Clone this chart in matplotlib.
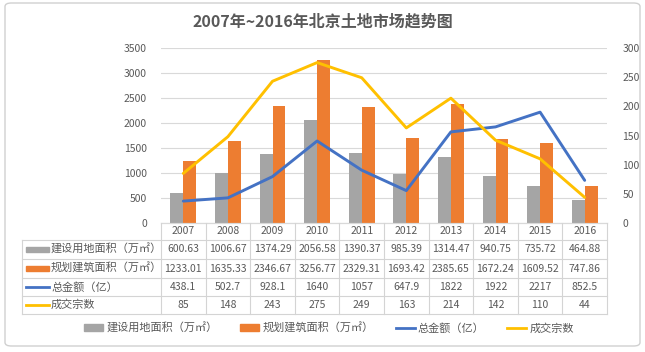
import matplotlib
matplotlib.use("Agg")
import matplotlib.pyplot as plt
from matplotlib.patches import Rectangle, FancyBboxPatch
from matplotlib.lines import Line2D
import numpy as np

plt.rcParams['font.family'] = ['Noto Sans CJK SC', 'DejaVu Sans']

years = ['2007', '2008', '2009', '2010', '2011', '2012', '2013', '2014', '2015', '2016']
land_area = [600.63, 1006.67, 1374.29, 2056.58, 1390.37, 985.39, 1314.47, 940.75, 735.72, 464.88]
build_area = [1233.01, 1635.33, 2346.67, 3256.77, 2329.31, 1693.42, 2385.65, 1672.24, 1609.52, 747.86]
total_amount = [438.1, 502.7, 928.1, 1640, 1057, 647.9, 1822, 1922, 2217, 852.5]
deal_count = [85, 148, 243, 275, 249, 163, 214, 142, 110, 44]
series_names = ['建设用地面积（万㎡）', '规划建筑面积（万㎡）', '总金额（亿）', '成交宗数']
title = '2007年~2016年北京土地市场趋势图'

C_GRAY = '#A5A5A5'
C_ORANGE = '#ED7D31'
C_BLUE = '#4472C4'
C_YELLOW = '#FFC000'
C_TEXT = '#595959'
C_GRID = '#D9D9D9'

W, H = 645, 352
fig = plt.figure(figsize=(W / 100, H / 100), dpi=100)

def fx(px):
    return px / W

def fy(py):
    return 1 - py / H

# outer border
fig.patches.append(FancyBboxPatch((fx(5), fy(346)), fx(635), 343 / H,
                                  boxstyle='round,pad=0,rounding_size=0.01',
                                  transform=fig.transFigure, fill=False,
                                  edgecolor='#D0D0D0', linewidth=1.0))

ax_l, ax_r, ax_t, ax_b = 161, 607, 48, 223
ax = fig.add_axes([fx(ax_l), fy(ax_b), (ax_r - ax_l) / W, (ax_b - ax_t) / H])
ax2 = ax.twinx()

n = len(years)
x = np.arange(n)
bw = 0.29
ax.bar(x - bw / 2, land_area, width=bw, color=C_GRAY, zorder=2)
ax.bar(x + bw / 2, build_area, width=bw, color=C_ORANGE, zorder=2)
ax.plot(x, total_amount, color=C_BLUE, linewidth=2.1, zorder=3, solid_capstyle='round')
ax2.plot(x, deal_count, color=C_YELLOW, linewidth=2.1, zorder=3, solid_capstyle='round')

ax.set_xlim(-0.5, n - 0.5)
ax.set_ylim(0, 3500)
ax2.set_ylim(0, 300)
ax.set_yticks(np.arange(0, 3501, 500))
ax2.set_yticks(np.arange(0, 301, 50))
ax.set_xticks([])
ax.grid(axis='y', color=C_GRID, linewidth=0.8, zorder=0)
ax.set_axisbelow(True)
for a in (ax, ax2):
    for s in ['top', 'left', 'right']:
        a.spines[s].set_visible(False)
    a.spines['bottom'].set_color(C_GRID)
    a.tick_params(axis='y', length=0, labelsize=7.5, labelcolor=C_TEXT, pad=10)
ax2.tick_params(axis='y', pad=11)

fig.text(0.5, fy(22), title, ha='center', va='center', fontsize=11.5,
         fontweight='bold', color=C_TEXT)

# data table
col_w = (ax_r - ax_l) / n
tbl_left = 22
row_edges = [223, 240, 259, 278, 296, 314]
lw = 0.8
lc = '#D4D4D4'
def hline(y, x0, x1):
    fig.add_artist(Line2D([fx(x0), fx(x1)], [fy(y), fy(y)], color=lc, linewidth=lw,
                          transform=fig.transFigure))
def vline(xp, y0, y1):
    fig.add_artist(Line2D([fx(xp), fx(xp)], [fy(y0), fy(y1)], color=lc, linewidth=lw,
                          transform=fig.transFigure))

for y in row_edges[1:]:
    hline(y, tbl_left, ax_r)
vline(tbl_left, row_edges[1], row_edges[-1])
for k in range(n + 1):
    vline(ax_l + k * col_w, row_edges[0], row_edges[-1])

for k, yr in enumerate(years):
    cx = ax_l + (k + 0.5) * col_w
    fig.text(fx(cx), fy((row_edges[0] + row_edges[1]) / 2), yr, ha='center', va='center',
             fontsize=7.5, color=C_TEXT)

rows = [land_area, build_area, total_amount, deal_count]
kinds = ['patch', 'patch', 'line', 'line']
colors = [C_GRAY, C_ORANGE, C_BLUE, C_YELLOW]
for r, (vals, name, kind, col) in enumerate(zip(rows, series_names, kinds, colors)):
    y0, y1 = row_edges[r + 1], row_edges[r + 2]
    cy = (y0 + y1) / 2
    if kind == 'patch':
        fig.patches.append(Rectangle((fx(26), fy(cy + 2.5)), fx(23), 5 / H,
                                     transform=fig.transFigure, color=col))
    else:
        fig.add_artist(Line2D([fx(26), fx(49)], [fy(cy), fy(cy)], color=col, linewidth=2,
                              transform=fig.transFigure))
    fig.text(fx(51), fy(cy), name, ha='left', va='center', fontsize=8, color=C_TEXT)
    for k, v in enumerate(vals):
        cx = ax_l + (k + 0.5) * col_w
        fig.text(fx(cx), fy(cy), f"{v:g}", ha='center', va='center', fontsize=7.5,
                 color=C_TEXT)

# legend
handles = [Rectangle((0, 0), 1, 1, color=C_GRAY), Rectangle((0, 0), 1, 1, color=C_ORANGE),
           Line2D([0], [0], color=C_BLUE, linewidth=2), Line2D([0], [0], color=C_YELLOW, linewidth=2)]
leg = fig.legend(handles, series_names, loc='center', bbox_to_anchor=(0.51, fy(328)), ncol=4,
                 frameon=False, fontsize=8, handlelength=1.7, handleheight=0.5,
                 columnspacing=2.0, handletextpad=0.3)
for t in leg.get_texts():
    t.set_color(C_TEXT)

fig.savefig('out.png', dpi=100)
